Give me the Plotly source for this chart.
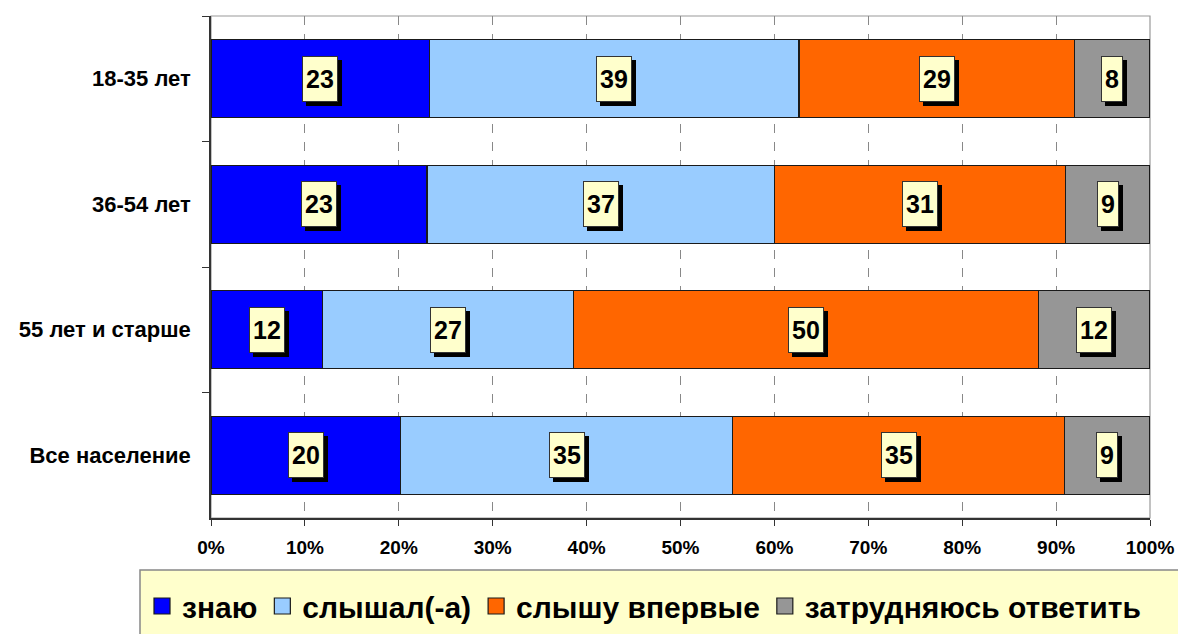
import plotly.graph_objects as go

categories = ["18-35 лет", "36-54 лет", "55 лет и старше", "Все население"]
series_names = ["знаю", "слышал(-а)", "слышу впервые", "затрудняюсь ответить"]
znayu = [23, 23, 12, 20]
slyshal = [39, 37, 27, 35]
vpervye = [29, 31, 50, 35]
zatrud = [8, 9, 12, 9]
x_ticks = [0, 10, 20, 30, 40, 50, 60, 70, 80, 90, 100]
x_tick_labels = ["0%", "10%", "20%", "30%", "40%", "50%", "60%", "70%", "80%", "90%", "100%"]

colors = ["#0000FF", "#99CCFF", "#FF6600", "#969696"]
series = [znayu, slyshal, vpervye, zatrud]
FONT = "Arial, Liberation Sans, sans-serif"

W, H = 1178, 634
ML, MR, MT, MB = 211, 28, 16, 116
PW, PH = W - ML - MR, H - MT - MB


def px_x(p):
    return (p - ML) / PW


def px_y(p):
    return (H - MB - p) / PH


fig = go.Figure()
for name, vals, col in zip(series_names, series, colors):
    fig.add_trace(go.Bar(
        y=categories, x=vals, name=name, orientation="h",
        marker=dict(color=col, line=dict(color="#1a1a1a", width=1.2)),
        showlegend=False, hoverinfo="x+y+name",
    ))
# legend proxies with larger square icons
for name, col in zip(series_names, colors):
    fig.add_trace(go.Scatter(
        x=[None], y=[None], name=name, mode="markers",
        marker=dict(symbol="square", size=16, color=col,
                    line=dict(color="#1a1a1a", width=1.2)),
        hoverinfo="skip",
    ))

annotations = []
for i, cat in enumerate(categories):
    total = sum(s[i] for s in series)
    cum = 0.0
    for s in series:
        v = s[i]
        mid = (cum + v / 2) / total * 100
        cum += v
        txt = str(v)
        w = 14 * len(txt) + 2
        common = dict(x=mid, y=cat, xref="x", yref="y",
                      showarrow=False, width=w, height=40, borderpad=2,
                      font=dict(family=FONT, size=25, color="black"))
        # drop shadow box (no text)
        annotations.append(dict(common, text="&nbsp;", bgcolor="black", bordercolor="black",
                                borderwidth=1, xshift=4, yshift=-4))
        annotations.append(dict(common, text="<b>%s</b>" % txt, bgcolor="#FFFFCC",
                                bordercolor="#333333", borderwidth=1))

fig.update_layout(
    barmode="stack", barnorm="percent", bargap=0.38,
    width=W, height=H,
    margin=dict(l=ML, r=MR, t=MT, b=MB, autoexpand=False),
    paper_bgcolor="white", plot_bgcolor="white",
    font=dict(family=FONT, color="black"),
    annotations=annotations,
    showlegend=True,
    legend=dict(orientation="h", x=px_x(142), y=px_y(606), xanchor="left", yanchor="middle",
                bgcolor="rgba(0,0,0,0)", borderwidth=0,
                font=dict(family=FONT, size=30, color="black", weight="bold"),
                traceorder="normal", itemwidth=30, itemclick=False, itemdoubleclick=False),
    shapes=[
        dict(type="rect", xref="paper", yref="paper", x0=0, x1=1, y0=0, y1=1,
             line=dict(color="#999999", width=1.2), layer="below"),
        dict(type="rect", xref="paper", yref="paper", x0=px_x(140), x1=px_x(1190),
             y0=px_y(645), y1=px_y(570), fillcolor="#FFFFCC",
             line=dict(color="#888888", width=1.5), layer="below"),
    ],
)
fig.update_xaxes(
    range=[0, 100], tickvals=x_ticks, ticktext=x_tick_labels,
    showgrid=True, gridcolor="#888888", griddash="dash", gridwidth=1,
    zeroline=False, showline=True, linecolor="#333333", linewidth=1.5,
    ticks="outside", ticklen=6, tickcolor="#333333", ticklabelstandoff=5,
    tickfont=dict(family=FONT, size=19, color="black", weight="bold"),
)
fig.update_yaxes(
    categoryorder="array", categoryarray=categories, autorange="reversed",
    showline=True, linecolor="#333333", linewidth=1.5,
    ticks="outside", ticklen=7, tickcolor="#333333", tickson="boundaries",
    showgrid=False, ticklabelstandoff=14,
    tickfont=dict(family=FONT, size=22, color="black", weight="bold"),
)

fig.write_html("out.html", post_script="document.body.style.margin='0';",
               config={"displayModeBar": False})
